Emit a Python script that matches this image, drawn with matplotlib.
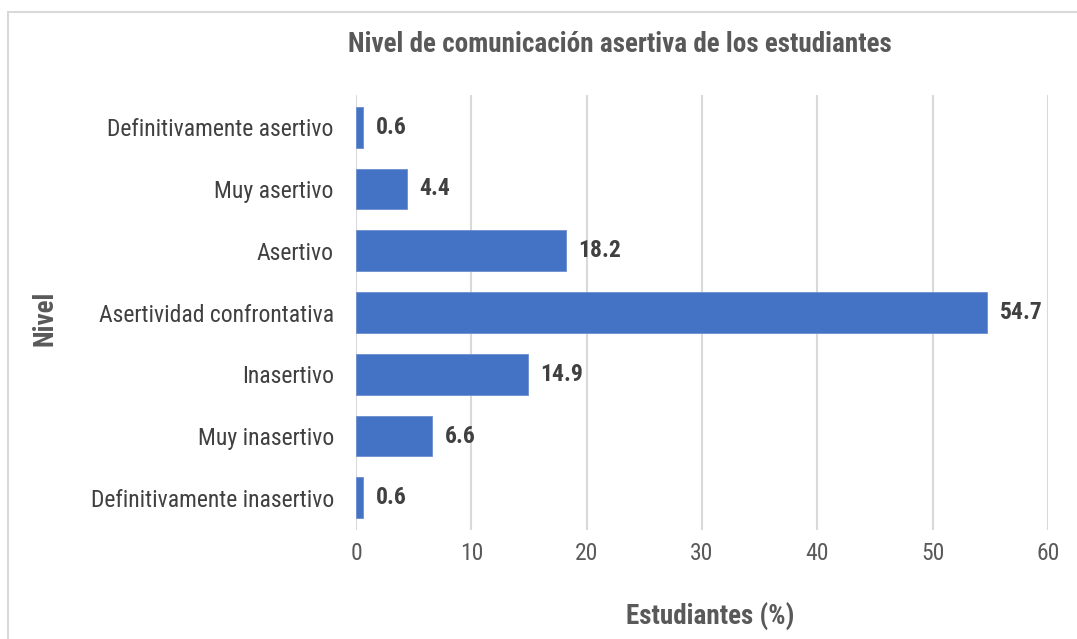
import matplotlib
matplotlib.use("Agg")
import matplotlib.pyplot as plt
from matplotlib import font_manager
from matplotlib.patches import Rectangle

names = {f.name for f in font_manager.fontManager.ttflist}
fam = "Liberation Sans Narrow" if "Liberation Sans Narrow" in names else "Roboto Condensed" if "Roboto Condensed" in names else "Liberation Sans"
plt.rcParams['font.family'] = [fam, 'DejaVu Sans']

categories = ["Definitivamente asertivo", "Muy asertivo", "Asertivo",
              "Asertividad confrontativa", "Inasertivo", "Muy inasertivo",
              "Definitivamente inasertivo"]
values = [0.6, 4.4, 18.2, 54.7, 14.9, 6.6, 0.6]
xticks = [0, 10, 20, 30, 40, 50, 60]

W, H = 1077, 639
fig = plt.figure(figsize=(W/100, H/100), dpi=100)
ax = fig.add_axes([356/W, 1-530/H, (1048-356)/W, (530-95)/H])

pos = list(range(len(categories)))
ax.barh(pos, values, height=0.66, color="#4472C4", edgecolor="#6d8fd0", linewidth=0.6, zorder=3)
ax.set_ylim(6.52, -0.52)
ax.set_xlim(0, 60)
ax.set_yticks(pos)
ax.set_yticklabels(categories, fontsize=17, color="#404040")
ax.set_xticks(xticks)
ax.set_xticklabels([str(t) for t in xticks], fontsize=17, color="#595959")
ax.tick_params(axis='both', length=0)
ax.tick_params(axis='y', pad=16)
ax.tick_params(axis='x', pad=9)
ax.grid(axis='x', color="#d9d9d9", linewidth=1.5, zorder=0)
for s in ax.spines.values():
    s.set_visible(False)

for p, v in zip(pos, values):
    ax.text(v + 1.1, p, f"{v:.1f}", va='center', ha='left', fontsize=17,
            fontweight='bold', color="#404040")

fig.text(620/W, 1-45/H, "Nivel de comunicación asertiva de los estudiantes",
         ha='center', va='center', fontsize=19.5, fontweight='bold', color="#595959")
fig.text(710/W, 1-617/H, "Estudiantes (%)", ha='center', va='center',
         fontsize=19.5, fontweight='bold', color="#595959")
fig.text(45/W, 1-318/H, "Nivel", ha='center', va='center', rotation=90,
         fontsize=19.5, fontweight='bold', color="#595959")

fig.patches.append(Rectangle((8/W, -0.1), 1.2, 1 - 12/H + 0.1, transform=fig.transFigure,
                             fill=False, edgecolor="#d9d9d9", linewidth=1.5))

fig.savefig("out.png", dpi=100)
